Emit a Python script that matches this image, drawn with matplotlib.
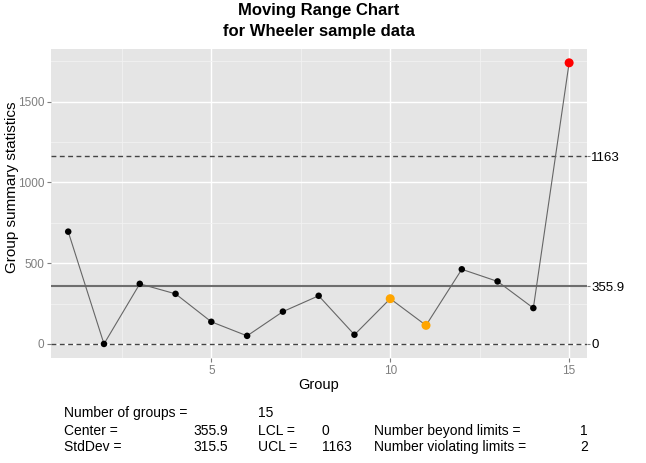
import numpy as np
import matplotlib
matplotlib.use("Agg")
import matplotlib.pyplot as plt

plt.rcParams['font.family'] = ['Liberation Sans', 'DejaVu Sans']

# moving ranges
group = np.arange(1, 16)
mr = [695, 0, 372, 310, 137, 50, 200, 298, 57, 280, 115, 462, 387, 222, 1740]
point_color = ['black'] * 9 + ['orange', 'orange'] + ['black'] * 3 + ['red']

center = 355.9
lcl = 0
ucl = 1163
limit_labels = ['1163', '355.9', '0']

fig = plt.figure(figsize=(6.46, 4.63), dpi=100)
ax = fig.add_axes([0.079, 0.2268, 0.8297, 0.6672])
ax.set_facecolor('#E5E5E5')
for s in ax.spines.values():
    s.set_visible(False)

ax.set_xlim(0.52, 15.5)
ax.set_ylim(-87, 1825)
ax.set_xticks([5, 10, 15])
ax.set_yticks([0, 500, 1000, 1500])
ax.set_xticks([2.5, 7.5, 12.5], minor=True)
ax.set_yticks([250, 750, 1250, 1750], minor=True)
ax.grid(True, which='major', color='white', linewidth=1.0)
ax.grid(True, which='minor', color='#F2F2F2', linewidth=0.6)
ax.set_axisbelow(True)
ax.tick_params(which='major', colors='#7F7F7F', labelcolor='#7F7F7F',
               length=3, labelsize=8.5, pad=2)
ax.tick_params(which='minor', length=0)

ax.axhline(ucl, color='#444444', linestyle=(0, (3.5, 2.5)), linewidth=1.0)
ax.axhline(lcl, color='#444444', linestyle=(0, (3.5, 2.5)), linewidth=1.0)
ax.axhline(center, color='#6E6E6E', linewidth=1.5)

ax.plot(group, mr, color='#666666', linewidth=0.8, zorder=3)
for g, v, c in zip(group, mr, point_color):
    ax.scatter(g, v, s=22 if c == 'black' else 42, color=c, zorder=4,
               edgecolors='none')

# limit labels on the right
ax2 = ax.twinx()
ax2.set_ylim(ax.get_ylim())
for s in ax2.spines.values():
    s.set_visible(False)
ax2.set_yticks([ucl, center, lcl])
ax2.set_yticklabels(limit_labels)
ax2.tick_params(axis='y', colors='#7F7F7F', labelcolor='black', length=2,
                labelsize=9.5, pad=1)

ax.set_xlabel('Group', fontsize=10.5, labelpad=1)
ax.set_ylabel('Group summary statistics', fontsize=11)
ax.yaxis.set_label_coords(-0.06, 0.553)

fig.text(0.494, 0.978, 'Moving Range Chart', ha='center', va='center',
         fontsize=12, fontweight='bold')
fig.text(0.494, 0.931, 'for Wheeler sample data', ha='center', va='center',
         fontsize=12, fontweight='bold')

# summary block
fs = 10
rows = [0.108, 0.069, 0.034]
fig.text(64 / 646, rows[0], 'Number of groups =', fontsize=fs, va='center')
fig.text(258 / 646, rows[0], '15', fontsize=fs, va='center')
fig.text(64 / 646, rows[1], 'Center =', fontsize=fs, va='center')
fig.text(193 / 646, rows[1], '355.9', fontsize=fs, va='center')
fig.text(258 / 646, rows[1], 'LCL =', fontsize=fs, va='center')
fig.text(322 / 646, rows[1], '0', fontsize=fs, va='center')
fig.text(374 / 646, rows[1], 'Number beyond limits =', fontsize=fs, va='center')
fig.text(588 / 646, rows[1], '1', fontsize=fs, va='center', ha='right')
fig.text(64 / 646, rows[2], 'StdDev =', fontsize=fs, va='center')
fig.text(193 / 646, rows[2], '315.5', fontsize=fs, va='center')
fig.text(258 / 646, rows[2], 'UCL =', fontsize=fs, va='center')
fig.text(322 / 646, rows[2], '1163', fontsize=fs, va='center')
fig.text(374 / 646, rows[2], 'Number violating limits =', fontsize=fs, va='center')
fig.text(588 / 646, rows[2], '2', fontsize=fs, va='center', ha='right')

fig.savefig('out.png', dpi=100, facecolor='white')
